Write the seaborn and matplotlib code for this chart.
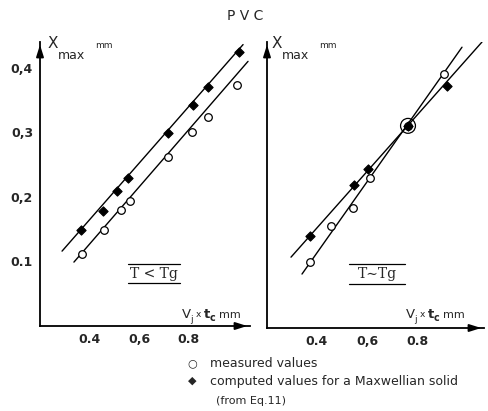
import matplotlib
matplotlib.use("Agg")
import matplotlib.pyplot as plt
import seaborn as sns
import pandas as pd
import numpy as np

# ---- data ----
# left panel (T < Tg)
left_meas_x = [0.370, 0.459, 0.527, 0.564, 0.717, 0.814, 0.879, 0.996]
left_meas_y = [0.112, 0.149, 0.180, 0.194, 0.262, 0.301, 0.324, 0.374]
left_comp_x = [0.366, 0.455, 0.511, 0.556, 0.717, 0.818, 0.879, 1.004]
left_comp_y = [0.149, 0.178, 0.209, 0.230, 0.299, 0.343, 0.370, 0.425]
left_meas_line_x = [0.337, 1.04]
left_meas_line_y = [0.099, 0.410]
left_comp_line_x = [0.289, 1.02]
left_comp_line_y = [0.116, 0.436]

# right panel (T ~ Tg)
right_meas_x = [0.372, 0.456, 0.544, 0.612, 0.764, 0.908]
right_meas_y = [0.1015, 0.157, 0.185, 0.231, 0.311, 0.391]
right_comp_x = [0.372, 0.548, 0.604, 0.764, 0.920]
right_comp_y = [0.1415, 0.220, 0.245, 0.311, 0.372]
right_meas_line_x = [0.340, 0.980]
right_meas_line_y = [0.083, 0.432]
right_comp_line_x = [0.296, 1.060]
right_comp_line_y = [0.109, 0.440]
right_highlight_x = [0.764]
right_highlight_y = [0.311]

x_ticks = [0.4, 0.6, 0.8, 1.0]
x_tick_labels = ["0.4", "0,6", "0.8", ""]
y_ticks = [0.1, 0.2, 0.3, 0.4]
y_tick_labels_left = ["0.1", "0,2", "0,3", "0,4"]
panel_labels = ["T < Tg", "T∼Tg"]
title = "P V C"
legend_labels = ["measured values", "computed values for a Maxwellian solid", "(from Eq.11)"]

sns.set_style("white")
plt.rcParams["font.family"] = ["DejaVu Sans"]

W, H = 488, 411
fig = plt.figure(figsize=(W / 100, H / 100), dpi=100)


def fx(px):
    return px / W


def fy(py):
    return 1 - py / H


axL = fig.add_axes([fx(40), fy(326), fx(250) - fx(40), fy(42) - fy(326)])
axR = fig.add_axes([fx(267), fy(328), fx(484) - fx(267), fy(42) - fy(328)])

panels = [
    (axL, left_meas_x, left_meas_y, left_comp_x, left_comp_y,
     left_meas_line_x, left_meas_line_y, left_comp_line_x, left_comp_line_y, 1.048),
    (axR, right_meas_x, right_meas_y, right_comp_x, right_comp_y,
     right_meas_line_x, right_meas_line_y, right_comp_line_x, right_comp_line_y, 1.068),
]

for i, (ax, mx, my, cx, cy, mlx, mly, clx, cly, xmax) in enumerate(panels):
    # fit lines
    sns.lineplot(x=mlx, y=mly, ax=ax, color="black", lw=1.0, sort=False)
    sns.lineplot(x=clx, y=cly, ax=ax, color="black", lw=1.0, sort=False)
    # points
    sns.scatterplot(x=mx, y=my, ax=ax, marker="o", s=30, facecolor="white",
                    edgecolor="black", linewidth=0.9, zorder=3)
    sns.scatterplot(x=cx, y=cy, ax=ax, marker="D", s=22, color="black",
                    edgecolor="black", linewidth=0.8, zorder=4)
    ax.set_xlim(0.2, xmax)
    ax.set_ylim(0, 0.44)
    for s in ["top", "right"]:
        ax.spines[s].set_visible(False)
    for s in ["left", "bottom"]:
        ax.spines[s].set_linewidth(1.3)
        ax.spines[s].set_color("black")
    ax.set_xticks(x_ticks)
    ax.set_xticklabels(x_tick_labels, fontsize=9, fontweight="bold")
    ax.set_yticks(y_ticks)
    if i == 0:
        ax.set_yticklabels(y_tick_labels_left, fontsize=9, fontweight="bold")
    else:
        ax.set_yticklabels([])
    ax.tick_params(axis="both", direction="in", length=4, width=0.8, color="black", pad=5)
    ax.set_xlabel("")
    ax.set_ylabel("")
    ax.patch.set_alpha(0)
    # arrows at axis ends
    ax.annotate("", xy=(0, 1.0), xytext=(0, 0.96), xycoords="axes fraction",
                arrowprops=dict(arrowstyle="-|>,head_length=0.7,head_width=0.22",
                                color="black", lw=1.3))
    ax.annotate("", xy=(1.0, 0), xytext=(0.95, 0), xycoords="axes fraction",
                arrowprops=dict(arrowstyle="-|>,head_length=0.7,head_width=0.22",
                                color="black", lw=1.3))

# highlighted common point (right panel)
sns.scatterplot(x=right_highlight_x, y=right_highlight_y, ax=axR, marker="o", s=115,
                facecolor="none", edgecolor="black", linewidth=0.9, zorder=5)

# panel boxed labels
for ax, lab, (x0, x1, yo, yu, yt) in [
    (axL, panel_labels[0], (0.42, 0.667, 0.218, 0.151, 0.183)),
    (axR, panel_labels[1], (0.378, 0.636, 0.224, 0.154, 0.189)),
]:
    ax.plot([x0, x1], [yo, yo], transform=ax.transAxes, color="black", lw=0.9)
    ax.plot([x0, x1], [yu, yu], transform=ax.transAxes, color="black", lw=0.9)
    ax.text((x0 + x1) / 2, yt, lab, transform=ax.transAxes, ha="center", va="center",
            fontsize=10, family="DejaVu Serif")

# axis labels
for xpx in (48, 272):
    fig.text(fx(xpx), fy(48), "X", fontsize=11, ha="left", va="baseline")
    fig.text(fx(xpx + 10), fy(59), "max", fontsize=9, ha="left", va="baseline")
    fig.text(fx(xpx + 47), fy(48), "mm", fontsize=6.5, ha="left", va="baseline")
for xpx, ypx in ((182, 318), (406, 318)):
    fig.text(fx(xpx), fy(ypx), "V", fontsize=9.5, ha="left", va="baseline")
    fig.text(fx(xpx + 8), fy(ypx + 4), "j", fontsize=6.5, ha="left", va="baseline")
    fig.text(fx(xpx + 14), fy(ypx - 1), "x", fontsize=6.5, ha="left", va="baseline")
    fig.text(fx(xpx + 22), fy(ypx), "t", fontsize=9.5, ha="left", va="baseline", fontweight="bold")
    fig.text(fx(xpx + 28), fy(ypx + 3), "c", fontsize=7, ha="left", va="baseline", fontweight="bold")
    fig.text(fx(xpx + 37), fy(ypx), "mm", fontsize=8, ha="left", va="baseline")

# title
fig.text(fx(245), fy(16), title, ha="center", va="center", fontsize=10)

# legend (manual, as in the reference)
fig.text(fx(192), fy(363), "○", ha="center", va="center", fontsize=8)
fig.text(fx(192), fy(381), "◆", ha="center", va="center", fontsize=8)
fig.text(fx(210), fy(363), legend_labels[0], ha="left", va="center", fontsize=9)
fig.text(fx(210), fy(381), legend_labels[1], ha="left", va="center", fontsize=9)
fig.text(fx(216), fy(401), legend_labels[2], ha="left", va="center", fontsize=8)

fig.savefig("out.png", dpi=100)
